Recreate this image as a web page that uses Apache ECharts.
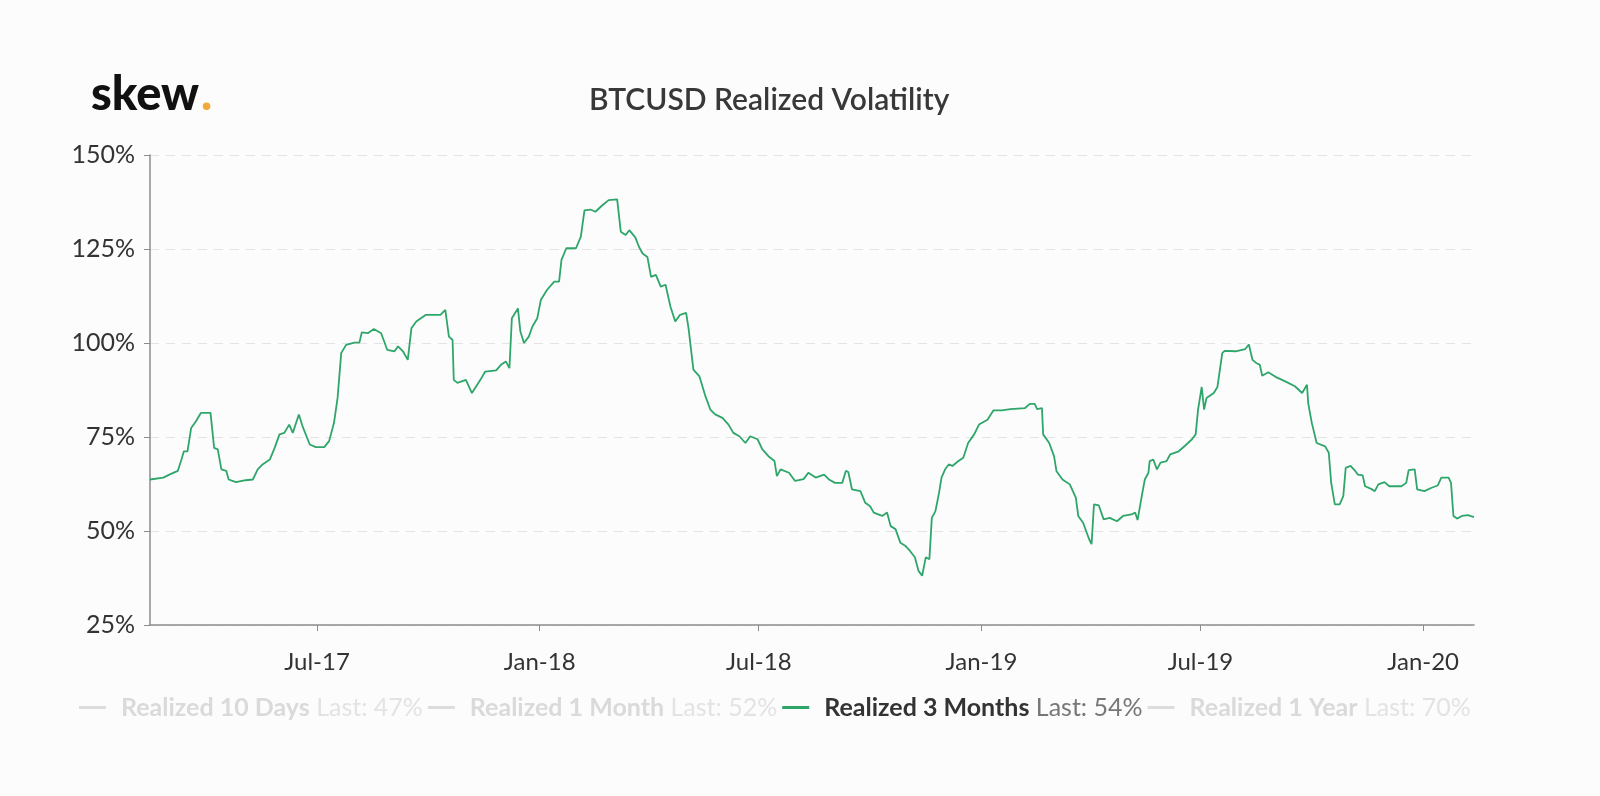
<!DOCTYPE html>
<html>
<head>
<meta charset="utf-8">
<script src="https://cdn.jsdelivr.net/npm/echarts@6/dist/echarts.min.js"></script>
<style>
html,body{margin:0;padding:0;background:#fcfcfc;}
#c{width:1600px;height:796px;}
</style>
</head>
<body>
<div id="c"></div>
<script>
// ---------- data ----------
const seriesNames = ['Realized 10 Days', 'Realized 1 Month', 'Realized 3 Months', 'Realized 1 Year'];
const lastValues = ['47%', '52%', '54%', '70%'];
const activeSeries = 'Realized 3 Months';

const tickDates = ['2017-07-01', '2018-01-01', '2018-07-01', '2019-01-01', '2019-07-01', '2020-01-01'];
const tickLabels = ['Jul-17', 'Jan-18', 'Jul-18', 'Jan-19', 'Jul-19', 'Jan-20'];
const yTicks = [25, 50, 75, 100, 125, 150];
const xStart = '2017-02-13';
const xEnd = '2020-02-12';

const dates3m = [
'2017-02-13','2017-02-24','2017-03-01','2017-03-08','2017-03-11','2017-03-13','2017-03-16','2017-03-19','2017-03-23','2017-03-27',
'2017-04-04','2017-04-07','2017-04-10','2017-04-13','2017-04-17','2017-04-19','2017-04-25','2017-05-03','2017-05-09','2017-05-13',
'2017-05-17','2017-05-23','2017-05-27','2017-05-31','2017-06-04','2017-06-08','2017-06-11','2017-06-16','2017-06-19','2017-06-25',
'2017-06-30','2017-07-07','2017-07-11','2017-07-15','2017-07-18','2017-07-21','2017-07-25','2017-08-01','2017-08-05','2017-08-07',
'2017-08-12','2017-08-17','2017-08-23','2017-08-28','2017-09-03','2017-09-06','2017-09-10','2017-09-14','2017-09-17','2017-09-21',
'2017-09-29','2017-10-11','2017-10-15','2017-10-18','2017-10-21','2017-10-22','2017-10-25','2017-11-01','2017-11-06','2017-11-13',
'2017-11-17','2017-11-26','2017-11-30','2017-12-04','2017-12-07','2017-12-09','2017-12-14','2017-12-16','2017-12-19','2017-12-23',
'2017-12-26','2017-12-30','2018-01-02','2018-01-07','2018-01-13','2018-01-17','2018-01-19','2018-01-23','2018-01-31','2018-02-04',
'2018-02-07','2018-02-12','2018-02-16','2018-02-22','2018-02-27','2018-03-06','2018-03-09','2018-03-13','2018-03-16','2018-03-21',
'2018-03-24','2018-03-27','2018-03-31','2018-04-03','2018-04-07','2018-04-11','2018-04-15','2018-04-19','2018-04-23','2018-04-27',
'2018-05-02','2018-05-04','2018-05-08','2018-05-13','2018-05-18','2018-05-22','2018-05-26','2018-06-01','2018-06-06','2018-06-10',
'2018-06-15','2018-06-20','2018-06-24','2018-06-30','2018-07-04','2018-07-09','2018-07-14','2018-07-16','2018-07-19','2018-07-26',
'2018-07-31','2018-08-07','2018-08-11','2018-08-17','2018-08-24','2018-08-28','2018-09-02','2018-09-08','2018-09-11','2018-09-13',
'2018-09-16','2018-09-23','2018-09-27','2018-10-01','2018-10-04','2018-10-11','2018-10-15','2018-10-18','2018-10-22','2018-10-26',
'2018-10-30','2018-11-03','2018-11-07','2018-11-10','2018-11-13','2018-11-16','2018-11-19','2018-11-21','2018-11-24','2018-11-27',
'2018-11-29','2018-12-02','2018-12-05','2018-12-08','2018-12-13','2018-12-17','2018-12-21','2018-12-26','2018-12-30','2019-01-06',
'2019-01-11','2019-01-18','2019-01-25','2019-02-06','2019-02-10','2019-02-14','2019-02-16','2019-02-20','2019-02-21','2019-02-26',
'2019-03-02','2019-03-04','2019-03-09','2019-03-15','2019-03-20','2019-03-22','2019-03-26','2019-03-31','2019-04-02','2019-04-04',
'2019-04-08','2019-04-12','2019-04-17','2019-04-23','2019-04-28','2019-05-05','2019-05-08','2019-05-10','2019-05-14','2019-05-16',
'2019-05-19','2019-05-20','2019-05-23','2019-05-26','2019-05-29','2019-06-03','2019-06-06','2019-06-13','2019-06-18','2019-06-24',
'2019-06-27','2019-06-29','2019-07-02','2019-07-04','2019-07-06','2019-07-12','2019-07-15','2019-07-19','2019-07-21','2019-07-30',
'2019-08-07','2019-08-10','2019-08-13','2019-08-16','2019-08-19','2019-08-21','2019-08-26','2019-09-01','2019-09-09','2019-09-17',
'2019-09-23','2019-09-27','2019-09-28','2019-10-01','2019-10-05','2019-10-12','2019-10-15','2019-10-17','2019-10-20','2019-10-24',
'2019-10-27','2019-10-29','2019-11-02','2019-11-06','2019-11-08','2019-11-12','2019-11-14','2019-11-19','2019-11-22','2019-11-25',
'2019-11-30','2019-12-04','2019-12-14','2019-12-18','2019-12-20','2019-12-25','2019-12-27','2020-01-02','2020-01-08','2020-01-13',
'2020-01-16','2020-01-22','2020-01-24','2020-01-26','2020-01-29','2020-02-02','2020-02-07','2020-02-12'
];
const values3m = [
63.7,64.2,65,66,69,71.2,71.2,77.4,79.2,81.4,
81.4,72.1,71.7,66.4,66,63.7,63,63.5,63.7,66.4,
67.7,69,72.1,75.7,76.1,78.3,76.1,81,77.9,73,
72.3,72.3,73.9,78.7,85.4,97.3,99.5,100.1,100.1,102.8,
102.6,103.7,102.6,98.2,97.8,99.1,97.8,95.5,103.9,105.7,
107.5,107.5,108.8,101.7,100.8,90.2,89.4,90.2,86.7,90.2,
92.4,92.7,94.2,95.1,93.3,106.6,109.2,103.1,100,101.7,
104.4,106.6,111.5,114.1,116.3,116.3,122.1,125.2,125.2,128.3,
135.3,135.5,134.9,136.7,138,138.2,129.6,128.7,130,128.1,
125.6,123.8,122.9,117.6,118.1,115,115.5,109.7,105.7,107.5,
108,103.9,92.9,91.1,85.8,82.3,81,80.1,78.3,76.1,
75.2,73.4,75.2,74.4,71.7,69.9,68.6,64.6,66.4,65.5,
63.3,63.8,65.5,64.2,65,63.7,62.8,62.8,66,65.7,
61.1,60.6,57.5,56.6,54.9,54,54.9,51.3,50.5,46.9,
46.1,44.7,43,39.4,38.1,43,42.5,53.5,55.3,60.2,
64.2,66.4,67.7,67.3,68.6,69.5,73.4,75.7,78.3,79.6,
82.1,82.1,82.4,82.7,83.8,83.8,82.4,82.7,75.7,73.4,
69.9,65.9,63.7,62.4,58.9,54,52.2,47.8,46.5,57.1,
56.8,53.1,53.5,52.6,54,54.4,54.9,52.9,60.2,63.7,
65.5,68.6,69,66.4,68.2,68.6,70.4,71.2,72.6,74.4,
75.7,82.3,88.3,82.3,85.4,86.7,88.3,97.3,97.9,97.8,
98.4,99.6,95.5,94.7,94.2,91.3,92.2,91,89.8,88.5,
86.7,88.9,84,78.7,73.4,72.5,70.8,62.8,57.1,57.1,
59.3,66.8,67.3,65.9,65,64.8,61.9,61.2,60.6,62.4,
63,61.9,61.9,62.8,66.2,66.4,61.1,60.6,61.5,62.1,
64.2,64.2,62.8,54,53.3,54,54.2,53.7
];

// ---------- build ----------
const toTs = s => { const p = s.split('-'); return Date.UTC(+p[0], +p[1] - 1, +p[2]); };
const tickTs = tickDates.map(toTs);
const line3m = dates3m.map((d, i) => [toTs(d), values3m[i]]);

const chart = echarts.init(document.getElementById('c'), null, { renderer: 'canvas' });

const selected = {};
seriesNames.forEach(n => selected[n] = (n === activeSeries));

const option = {
  backgroundColor: '#fcfcfc',
  animation: false,
  title: {
    text: 'BTCUSD Realized Volatility',
    left: 584, top: 80,
    textStyle: { fontFamily: 'Lato', fontSize: 30, fontWeight: 600, color: '#383838' }
  },
  graphic: [
    { type: 'text', left: 91, top: 71, style: { text: 'skew', font: '900 47px Lato', fill: '#111' } },
    { type: 'text', left: 201, top: 71, style: { text: '.', font: '900 47px Lato', fill: '#f2a93b' } }
  ],
  legend: {
    left: 74, top: 690,
    icon: 'rect', itemWidth: 27, itemHeight: 3, itemGap: 5,
    inactiveColor: '#dcdcdc',
    selectedMode: false,
    data: seriesNames,
    selected: selected,
    formatter: function (name) {
      const i = seriesNames.indexOf(name);
      if (name === activeSeries) return '{a|' + name + '} {b|Last: ' + lastValues[i] + '}';
      return '{c|' + name + '} {d|Last: ' + lastValues[i] + '}';
    },
    textStyle: {
      fontFamily: 'Lato', fontSize: 25, padding: [0, 0, 0, 10],
      rich: {
        a: { fontFamily: 'Lato', fontSize: 25, fontWeight: 'bold', color: '#333' },
        b: { fontFamily: 'Lato', fontSize: 25, color: '#777' },
        c: { fontFamily: 'Lato', fontSize: 25, fontWeight: 'bold', color: '#dadada' },
        d: { fontFamily: 'Lato', fontSize: 25, color: '#e3e3e3' }
      }
    }
  },
  grid: { left: 150, top: 155, width: 1324, height: 470 },
  xAxis: {
    type: 'value',
    min: toTs(xStart), max: toTs(xEnd),
    axisLine: { show: true, lineStyle: { color: '#8c8c8c', width: 1.5 } },
    axisTick: { show: true, length: 6, customValues: tickTs, lineStyle: { color: '#8c8c8c' } },
    axisLabel: {
      customValues: tickTs,
      margin: 25,
      fontFamily: 'Lato', fontSize: 24, color: '#333',
      formatter: function (v) {
        const i = tickTs.indexOf(v);
        return i >= 0 ? tickLabels[i] : '';
      }
    },
    splitLine: { show: false }
  },
  yAxis: {
    type: 'value',
    min: yTicks[0], max: yTicks[yTicks.length - 1], interval: 25,
    axisLine: { show: true, lineStyle: { color: '#8c8c8c', width: 1.5 } },
    axisTick: { show: true, length: 6, lineStyle: { color: '#8c8c8c' } },
    axisLabel: { margin: 15, fontFamily: 'Lato', fontSize: 25, color: '#333', formatter: '{value}%' },
    splitLine: { show: true, lineStyle: { color: '#e4e4e4', type: [9, 7], width: 1 } }
  },
  series: [
    { name: seriesNames[0], type: 'line', data: [], color: '#cccccc', showSymbol: false },
    { name: seriesNames[1], type: 'line', data: [], color: '#cccccc', showSymbol: false },
    { name: seriesNames[2], type: 'line', data: line3m, color: '#2ea66a', showSymbol: false,
      lineStyle: { width: 1.8, color: '#2ea66a' } },
    { name: seriesNames[3], type: 'line', data: [], color: '#cccccc', showSymbol: false }
  ]
};
chart.setOption(option);
</script>
</body>
</html>
